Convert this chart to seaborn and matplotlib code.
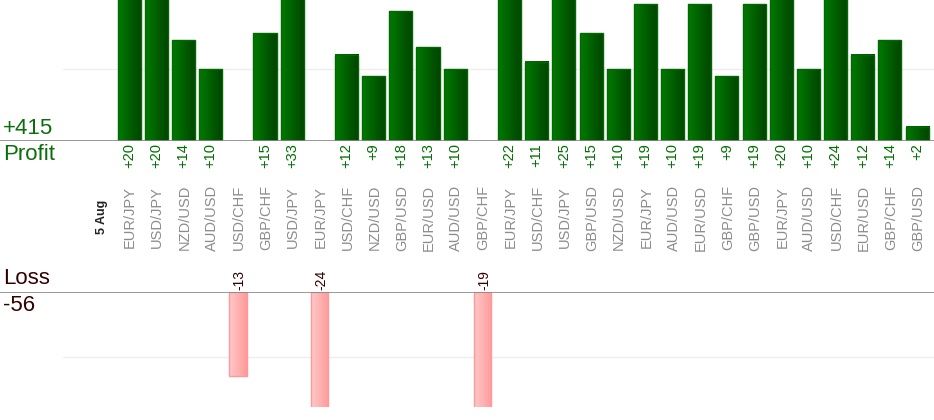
import numpy as np
import pandas as pd
import matplotlib
matplotlib.use("Agg")
import matplotlib.pyplot as plt
import seaborn as sns
from matplotlib.colors import LinearSegmentedColormap

date_label = "5 Aug"
pairs = ["EUR/JPY", "USD/JPY", "NZD/USD", "AUD/USD", "USD/CHF", "GBP/CHF",
         "USD/JPY", "EUR/JPY", "USD/CHF", "NZD/USD", "GBP/USD", "EUR/USD",
         "AUD/USD", "GBP/CHF", "EUR/JPY", "USD/CHF", "USD/JPY", "GBP/USD",
         "NZD/USD", "EUR/JPY", "AUD/USD", "EUR/USD", "GBP/CHF", "GBP/USD",
         "EUR/JPY", "AUD/USD", "USD/CHF", "EUR/USD", "GBP/CHF", "GBP/USD"]
pips = [20, 20, 14, 10, -13, 15, 33, -24, 12, 9, 18, 13, 10, -19,
        22, 11, 25, 15, 10, 19, 10, 19, 9, 19, 20, 10, 24, 12, 14, 2]

df = pd.DataFrame({"slot": np.arange(1, len(pairs) + 1), "pair": pairs, "pips": pips})
profit = df[df.pips > 0]
loss = df[df.pips < 0]

W, H = 934, 420
fig = plt.figure(figsize=(W / 100, H / 100), dpi=100)
sns.set_style("white")
plt.rcParams["font.family"] = ["Liberation Sans", "DejaVu Sans"]

# px positions: slot 0 at x=102, spacing 27.17
px_unit = 27.17
xlim = (-102 / px_unit, (W - 102) / px_unit)
ylim_p = (0, 141 / 7.2)
ylim_l = (-114.4 / 6.44, 0)

ax_p = fig.add_axes([0, 1 - 141 / H, 1, 141 / H])
ax_l = fig.add_axes([0, (H - 406.7) / H, 1, 114.4 / H])

# seaborn scales native-scale widths by the smallest gap between slots
gap_p = np.diff(profit.slot).min()
gap_l = np.diff(loss.slot).min()
sns.barplot(data=profit, x="slot", y="pips", native_scale=True, width=0.85 / gap_p,
            color="#006600", edgecolor="#006a00", linewidth=1, ax=ax_p)
sns.barplot(data=loss, x="slot", y="pips", native_scale=True, width=0.64 / gap_l,
            color="#ffaaaa", edgecolor="#ff9999", linewidth=1, ax=ax_l)

green_cmap = LinearSegmentedColormap.from_list("g", ["#007a00", "#004400"])
pink_cmap = LinearSegmentedColormap.from_list("p", ["#ffc9c9", "#ff9a9a"])
grad = np.linspace(0, 1, 64).reshape(1, -1)
for ax, cmap, ylim in [(ax_p, green_cmap, ylim_p), (ax_l, pink_cmap, ylim_l)]:
    for patch in list(ax.patches):
        x0, y0 = patch.get_x(), patch.get_y()
        w, h = patch.get_width(), patch.get_height()
        lo, hi = sorted([y0, y0 + h])
        lo, hi = max(lo, ylim[0]), min(hi, ylim[1])
        ax.imshow(grad, cmap=cmap, aspect="auto", extent=[x0, x0 + w, lo, hi],
                  zorder=patch.get_zorder() - 0.1)
        patch.set_facecolor("none")
    ax.set_xlim(*xlim)
    ax.set_ylim(*ylim)
    ax.set_axis_off()

# baselines and gridlines
ax_p.axhline(0, color="#888888", lw=1.2, zorder=5)
ax_l.axhline(0, color="#888888", lw=1.2, zorder=5)
ax_p.axhline(10, xmin=63 / W, color="#eeeeee", lw=1, zorder=0)
ax_l.axhline(-10, xmin=63 / W, color="#eeeeee", lw=1, zorder=0)


def fy(py):
    return 1 - py / H


def fx(slot):
    return (102 + slot * px_unit) / W


txt_green = "#0b6e0b"
txt_loss = "#330000"

fig.text(3 / W, fy(139), "+415", color=txt_green, fontsize=16, va="bottom", ha="left")
fig.text(3 / W, fy(144), "Profit", color=txt_green, fontsize=16, va="top", ha="left")
fig.text(3 / W, fy(289), "Loss", color=txt_loss, fontsize=16, va="bottom", ha="left")
fig.text(3 / W, fy(295), "-56", color=txt_loss, fontsize=16, va="top", ha="left")

fig.text(fx(0), fy(217), date_label, rotation=90, fontsize=9, fontweight="bold",
         color="#222222", ha="center", va="center")
for slot, pair, v in zip(df.slot, df.pair, df.pips):
    fig.text(fx(slot) + 1 / W, fy(217.5), pair, rotation=90, fontsize=10.5,
             color="#8c8c8c", ha="center", va="center")
    if v > 0:
        fig.text(fx(slot), fy(143), f"+{v}", rotation=90, fontsize=10.5,
                 color="#007000", ha="center", va="top")
    else:
        fig.text(fx(slot) + 2 / W, fy(290), f"{v}", rotation=90, fontsize=10,
                 color=txt_loss, ha="center", va="bottom")

fig.savefig("out.png", dpi=100)
